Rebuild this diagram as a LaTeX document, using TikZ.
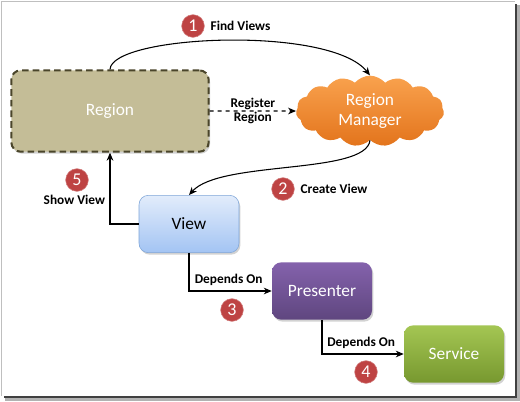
\documentclass[tikz,border=0pt]{standalone}
\usepackage{fontspec}
\setmainfont{Carlito}
\usepackage{tikz}
\usetikzlibrary{positioning,calc,shapes.symbols,shadows,arrows.meta}

\definecolor{regionfill}{HTML}{C4BD97}
\definecolor{regionline}{HTML}{4A452A}
\definecolor{cloudtop}{HTML}{F9A24E}
\definecolor{cloudbot}{HTML}{E3741C}
\definecolor{viewtop}{HTML}{E2ECFB}
\definecolor{viewbot}{HTML}{A3C4F3}
\definecolor{viewline}{HTML}{7FA6D8}
\definecolor{prestop}{HTML}{8462AC}
\definecolor{presbot}{HTML}{5F467F}
\definecolor{servtop}{HTML}{A4C653}
\definecolor{servbot}{HTML}{77982F}
\definecolor{badgered}{HTML}{BE4343}

\begin{document}
\begin{tikzpicture}[
  x=0.75pt, y=-0.75pt,
  box/.style={rounded corners=7pt, minimum width=75pt, minimum height=43pt,
    font=\fontsize{13}{15}\selectfont,
    drop shadow={opacity=0.35, shadow xshift=1pt, shadow yshift=-1.5pt}},
  badge/.style={circle, fill=badgered, draw=badgered!70!white, text=white,
    minimum size=17pt, inner sep=0pt, font=\fontsize{13.5}{13.5}\selectfont},
  lbl/.style={font=\bfseries\fontsize{10}{11}\selectfont},
  conn/.style={thick, -{Stealth[length=6pt,width=5pt]}}
]

% frame
\useasboundingbox (0,0) rectangle (520,401);
\fill[black!30] (5,5) rectangle (520,401);
\fill[black!75] (4,4) rectangle (517,398);
\fill[white] (1,1) rectangle (515,396);
\draw[black!25] (1,396) -- (1,1) -- (515,1);

\node[
   box,
   fill=regionfill,
   draw=regionline,
   line width=1.5pt,
   dash pattern=on 5pt off 3pt,
   minimum width=148pt,
   minimum height=61pt,
   text=white
] (region) at (110,111) {Region};
\node[
   cloud,
   cloud puffs=15,
   cloud puff arc=100,
   aspect=2.2,
   minimum width=111pt,
   minimum height=53pt,
   inner sep=1pt,
   top color=cloudtop,
   bottom color=cloudbot,
   text=white,
   align=center,
   font=\fontsize{13}{15}\selectfont
] (manager) at (370,111) {Region\\Manager};
\node[box, top color=viewtop, bottom color=viewbot, draw=viewline] (view) at (189,224) {View};
\node[box, top color=prestop, bottom color=presbot, text=white] (presenter) at (322,291) {Presenter};
\node[box, top color=servtop, bottom color=servbot, text=white] (service) at (454,354) {Service};

% numbered steps
\node[badge] (n1) at (193,26) {1};
\node[lbl, right=1pt of n1] (findlbl) {Find Views};
\node[badge] (n2) at (283,189) {2};
\node[lbl, right=1pt of n2] (createlbl) {Create View};
\node[badge] (n3) at (232,310) {3};
\node[badge] (n4) at (366,372) {4};
\node[badge] (n5) at (77,180) {5};

% Connecting Arrows
\draw[conn] (region.north) .. controls (112,35) and (330,25) .. (manager.north);
\draw[conn, dashed] (region.east) -- node[lbl, align=center] {Register\\Region} (manager.west);
\draw[conn] (manager.south) .. controls (366,175) and (220,160) .. (view.north);
\draw[conn] (view.west) -| node[lbl, left, pos=0.67] {Show View} (region.south);
\draw[conn] (view.south) |- node[lbl, above, pos=0.74] {Depends On} (presenter.west);
\draw[conn] (presenter.south) |- node[lbl, above, pos=0.74] {Depends On} (service.west);

\end{tikzpicture}
\end{document}
